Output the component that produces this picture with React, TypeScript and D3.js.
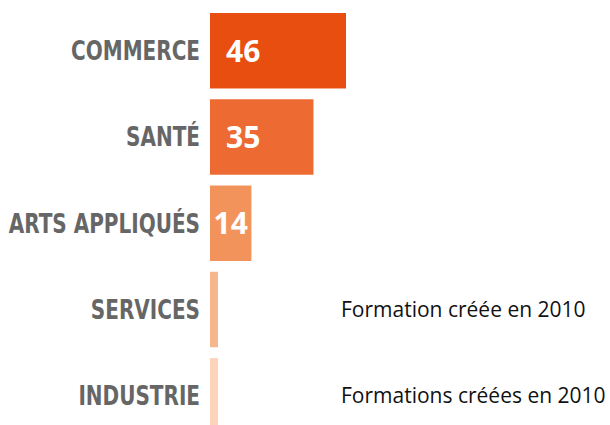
import * as d3 from "d3";

const categories = ["COMMERCE", "SANTÉ", "ARTS APPLIQUÉS", "SERVICES", "INDUSTRIE"];
const values = [46, 35, 14, 0, 0];
const valueLabels = ["46", "35", "14", "", ""];
const notes = ["", "", "", "Formation créée en 2010", "Formations créées en 2010"];
const colors = ["#e84e0f", "#ed6b33", "#f3935c", "#f7b78e", "#fbd4bb"];

const width = 610;
const height = 425;
const left = 210;
const minBar = 8;

export default function App() {
  const x = d3.scaleLinear().domain([0, 46]).range([0, 136]);
  const y = d3
    .scaleBand<string>()
    .domain(categories)
    .range([13, 433.5])
    .paddingInner(0.125)
    .paddingOuter(0);

  return (
    <svg
      width={width}
      height={height}
      viewBox={`0 0 ${width} ${height}`}
      style={{ position: "absolute", left: 0, top: 0, background: "#fff" }}
    >
      {categories.map((c, i) => {
        const y0 = y(c)!;
        const bh = y.bandwidth();
        const cy = y0 + bh / 2;
        const w = Math.max(x(values[i]), minBar);
        // narrow bars get their number centred instead of padded
        const narrow = w < 60;
        return (
          <g key={c}>
            <rect x={left} y={y0} width={w} height={bh} fill={colors[i]} />
            {/* squeeze the bold face to mimic a condensed font */}
            <g transform={`translate(200,${cy}) scale(0.77,1)`}>
              <text
                dy="0.36em"
                textAnchor="end"
                fill="#666"
                fontFamily="'DejaVu Sans', sans-serif"
                fontWeight="bold"
                fontSize={26}
              >
                {c}
              </text>
            </g>
            {valueLabels[i] && (
              <text
                x={narrow ? left + w / 2 : left + 16}
                y={cy}
                dy="0.36em"
                textAnchor={narrow ? "middle" : "start"}
                fill="#fff"
                fontFamily="'Open Sans', sans-serif"
                fontWeight={700}
                fontSize={30}
              >
                {valueLabels[i]}
              </text>
            )}
            {notes[i] && (
              <text
                x={341}
                y={cy}
                dy="0.36em"
                fill="#111"
                fontFamily="'Open Sans', sans-serif"
                fontSize={21}
              >
                {notes[i]}
              </text>
            )}
          </g>
        );
      })}
    </svg>
  );
}
